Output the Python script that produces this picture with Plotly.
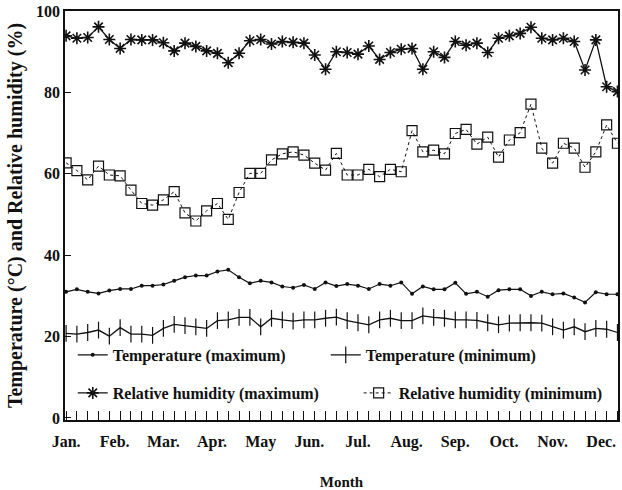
import plotly.graph_objects as go

# weekly observations, 52 weeks
weeks = list(range(1, 53))

temp_max = [31.0, 31.6, 31.0, 30.6, 31.3, 31.7, 31.7, 32.5, 32.5, 32.8,
            33.7, 34.6, 35.0, 35.0, 36.0, 36.4, 34.6, 33.1, 33.7, 33.3,
            32.3, 32.0, 32.7, 31.7, 33.3, 32.4, 32.9, 32.5, 31.7, 32.9,
            32.5, 33.3, 30.5, 32.3, 31.6, 31.6, 33.2, 30.5, 31.0, 29.8,
            31.4, 31.6, 31.6, 30.0, 31.0, 30.4, 30.6, 29.6, 28.4, 30.9,
            30.4, 30.4]

temp_min = [20.8, 20.6, 21.0, 21.6, 20.1, 22.2, 20.6, 20.6, 20.3, 22.0,
            23.0, 22.7, 22.4, 22.0, 23.9, 24.1, 24.7, 24.7, 22.4, 24.5,
            24.1, 23.8, 24.1, 24.1, 24.5, 24.8, 23.9, 23.4, 22.9, 24.1,
            24.5, 23.9, 23.9, 25.1, 24.7, 24.5, 24.1, 24.1, 24.0, 23.4,
            22.9, 23.3, 23.4, 23.4, 23.3, 22.4, 21.6, 22.4, 21.2, 22.0,
            21.8, 21.0]

rh_max = [93.9, 93.3, 93.5, 96.1, 93.0, 90.8, 93.0, 92.9, 92.9, 92.2,
          90.2, 92.1, 91.3, 90.2, 89.6, 87.3, 89.6, 92.7, 93.0, 91.9,
          92.5, 92.3, 92.1, 89.2, 85.7, 90.0, 89.8, 89.4, 91.4, 88.1,
          89.8, 90.6, 90.8, 85.7, 90.0, 88.6, 92.5, 91.6, 92.1, 89.8,
          93.3, 93.9, 94.5, 96.0, 93.3, 92.9, 93.3, 92.5, 85.5, 92.9,
          81.4, 80.2]

rh_min = [62.7, 60.8, 58.5, 61.9, 59.7, 59.5, 56.0, 52.7, 52.3, 53.6,
          55.6, 50.4, 48.4, 50.9, 52.7, 48.8, 55.4, 60.1, 60.1, 63.4,
          64.9, 65.4, 64.6, 62.6, 60.9, 65.0, 59.7, 59.7, 61.1, 59.3,
          61.1, 60.5, 70.6, 65.4, 65.8, 64.9, 69.9, 70.9, 67.3, 69.0,
          64.1, 68.3, 70.1, 77.1, 66.3, 62.6, 67.5, 66.3, 61.6, 65.4,
          72.0, 67.5]

months = ["Jan.", "Feb.", "Mar.", "Apr.", "May", "Jun.", "Jul.", "Aug.",
          "Sep.", "Oct.", "Nov.", "Dec."]
month_pos = [1 + 4.5 * i for i in range(12)]

serif = "Liberation Serif"
black = "#111111"

fig = go.Figure()

fig.add_trace(go.Scatter(
    x=weeks, y=temp_max, name="Temperature (maximum)", mode="lines+markers",
    line=dict(color=black, width=1.2),
    marker=dict(symbol="circle", size=4, color=black),
    legend="legend",
))
fig.add_trace(go.Scatter(
    x=weeks, y=temp_min, name="Temperature (minimum)", mode="lines+markers",
    line=dict(color=black, width=1.3),
    marker=dict(symbol="line-ns", size=12, line=dict(color=black, width=1.2)),
    legend="legend",
))
fig.add_trace(go.Scatter(
    x=weeks, y=rh_max, name="Relative humidity (maximum)", mode="lines+markers",
    line=dict(color=black, width=1.3),
    marker=dict(symbol="asterisk", size=10, line=dict(color=black, width=1.6)),
    legend="legend2",
))
fig.add_trace(go.Scatter(
    x=weeks, y=rh_min, name="Relative humidity (minimum)", mode="lines+markers",
    line=dict(color=black, width=1.0, dash="dot"),
    marker=dict(symbol="square-open", size=10, color=black, line=dict(width=1.2)),
    legend="legend3",
))

legend_style = dict(
    orientation="h", xanchor="left", yanchor="middle",
    bgcolor="rgba(0,0,0,0)",
    font=dict(family=serif, size=16, color=black, weight="bold"),
    entrywidthmode="pixels",
)

fig.update_layout(
    width=622, height=490,
    margin=dict(l=65, r=4, t=11, b=70),
    paper_bgcolor="white", plot_bgcolor="white",
    font=dict(family=serif, color=black),
    showlegend=True,
    legend=dict(x=0.014, y=0.159, entrywidth=208, **legend_style),
    legend2=dict(x=0.014, y=0.066, **legend_style),
    legend3=dict(x=0.531, y=0.066, **legend_style),
)

fig.update_xaxes(
    range=[0.9, 52.05], automargin=False,
    tickmode="array", tickvals=month_pos, ticktext=months,
    ticks="", ticklabelstandoff=6,
    tickfont=dict(family=serif, size=16, color=black, weight="bold"),
    minor=dict(tickmode="array", tickvals=weeks, ticks="inside",
               ticklen=9, tickcolor=black, tickwidth=1),
    showline=True, linecolor=black, linewidth=1.5, mirror=True,
    showgrid=False, zeroline=False,
    title=dict(text="Month",
               font=dict(family=serif, size=15, color=black, weight="bold"),
               standoff=28),
)

fig.update_yaxes(
    range=[-0.5, 100], automargin=False,
    tickmode="array", tickvals=[0, 20, 40, 60, 80, 100],
    ticks="inside", ticklen=6, tickcolor=black,
    tickfont=dict(family=serif, size=16, color=black, weight="bold"),
    showline=True, linecolor=black, linewidth=1.5, mirror=True,
    showgrid=False, zeroline=False,
    title=dict(text="Temperature (°C) and Relative humidity (%)",
               font=dict(family=serif, size=20, color=black, weight="bold"),
               standoff=8),
)

# page has a default body margin; drop it so the figure sits at the corner
fig.write_html("out.html", config={"displayModeBar": False},
               post_script="document.body.style.margin='0';")
